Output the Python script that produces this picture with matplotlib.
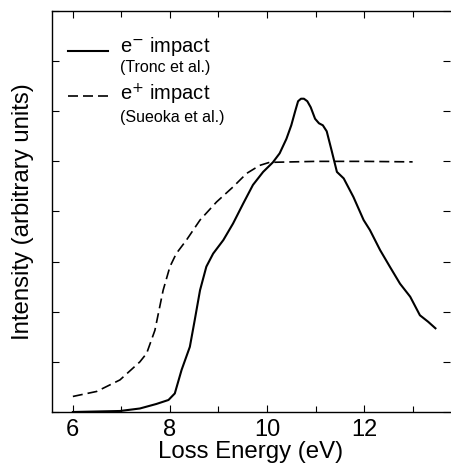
import matplotlib
matplotlib.use("Agg")
import matplotlib.pyplot as plt
from matplotlib.ticker import MultipleLocator, NullFormatter

plt.rcParams['font.family'] = ['Liberation Sans', 'DejaVu Sans']

# e- impact (Tronc et al.)
e_minus_x = [6.0, 6.97, 7.38, 7.72, 7.97, 8.1, 8.24, 8.41, 8.51, 8.62, 8.75, 8.89, 9.1, 9.3,
             9.51, 9.71, 9.92, 10.12, 10.26, 10.4, 10.5, 10.58, 10.64, 10.7, 10.76, 10.83, 10.9,
             10.99, 11.07, 11.15, 11.23, 11.33, 11.44, 11.58, 11.78, 11.99, 12.12, 12.33, 12.53,
             12.74, 12.95, 13.15, 13.32, 13.47]
e_minus_y = [0.0, 0.02, 0.07, 0.16, 0.24, 0.37, 0.84, 1.3, 1.83, 2.43, 2.9, 3.16, 3.43, 3.76,
             4.16, 4.53, 4.79, 4.98, 5.16, 5.45, 5.72, 6.0, 6.2, 6.25, 6.25, 6.2, 6.08,
             5.85, 5.76, 5.72, 5.6, 5.22, 4.79, 4.66, 4.29, 3.83, 3.63, 3.23, 2.9,
             2.56, 2.3, 1.93, 1.8, 1.67]

# e+ impact (Sueoka et al.)
e_plus_x = [6.0, 6.49, 6.97, 7.38, 7.52, 7.69, 7.86, 8.0, 8.13, 8.34, 8.62, 8.96, 9.3, 9.58,
            9.85, 10.05, 11.0, 12.0, 13.0]
e_plus_y = [0.31, 0.41, 0.64, 1.0, 1.17, 1.63, 2.43, 2.9, 3.16, 3.43, 3.83, 4.19, 4.49, 4.76,
            4.92, 4.98, 5.0, 5.0, 4.99]

fig = plt.figure(figsize=(4.51, 4.69), dpi=100)
ax = fig.add_axes([52/451, 1 - 412/469, (450 - 52)/451, (412 - 11)/469])

ax.plot(e_minus_x, e_minus_y, color='black', lw=1.5, solid_joinstyle='round')
ax.plot(e_plus_x, e_plus_y, color='black', lw=1.2, dashes=(6, 3))

ax.set_xlim(5.57, 13.77)
ax.set_ylim(0, 8)
ax.xaxis.set_major_locator(MultipleLocator(2))
ax.xaxis.set_minor_locator(MultipleLocator(1))
ax.yaxis.set_major_locator(MultipleLocator(1))
ax.yaxis.set_major_formatter(NullFormatter())
ax.tick_params(which='both', direction='in', top=True, right=True, width=0.8, labelsize=17)
ax.tick_params(which='major', length=5, pad=5)
ax.tick_params(which='minor', length=4)
ax.spines['right'].set_visible(False)
for s in ['left', 'bottom', 'top']:
    ax.spines[s].set_linewidth(1.0)

ax.set_xlabel('Loss Energy (eV)', fontsize=17.3, labelpad=0)
ax.set_ylabel('Intensity (arbitrary units)', fontsize=17.3, labelpad=8)

# legend drawn manually
tr = ax.transAxes
ax.plot([0.04, 0.141], [0.9, 0.9], transform=tr, color='black', lw=1.5)
ax.text(0.171, 0.898, 'e$^{-}$ impact', transform=tr, fontsize=14.5, va='baseline')
ax.text(0.171, 0.848, '(Tronc et al.)', transform=tr, fontsize=11.5, va='baseline')
ax.plot([0.04, 0.141], [0.787, 0.787], transform=tr, color='black', lw=1.2, dashes=(6, 3))
ax.text(0.171, 0.776, 'e$^{+}$ impact', transform=tr, fontsize=14.5, va='baseline')
ax.text(0.171, 0.722, '(Sueoka et al.)', transform=tr, fontsize=11.5, va='baseline')

fig.savefig('out.png', dpi=100)
